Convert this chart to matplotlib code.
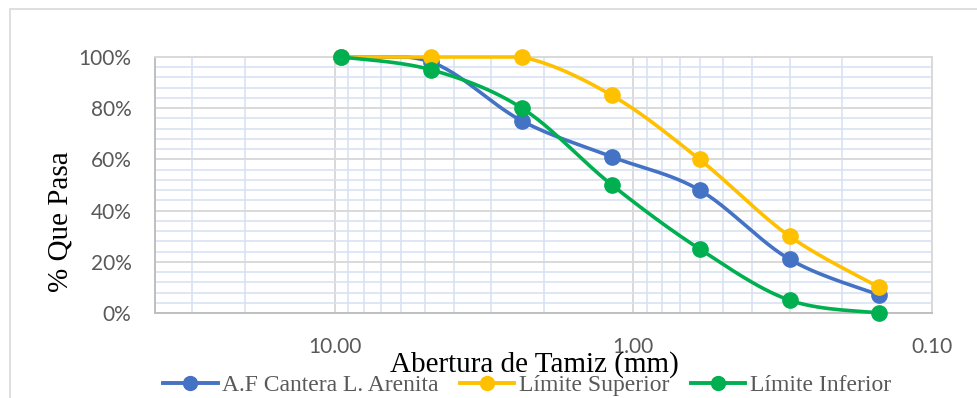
import numpy as np
import matplotlib
matplotlib.use("Agg")
import matplotlib.pyplot as plt
from matplotlib.ticker import FixedLocator, FuncFormatter, MultipleLocator, LogLocator, NullFormatter
from matplotlib.patches import Rectangle
from matplotlib.lines import Line2D

# sieve openings (mm) and % passing
abertura = [9.5, 4.75, 2.36, 1.18, 0.6, 0.3, 0.15]
cantera = [100, 98, 75, 61, 48, 21, 7]
lim_sup = [100, 100, 100, 85, 60, 30, 10]
lim_inf = [100, 95, 80, 50, 25, 5, 0]

series_names = ["A.F Cantera L. Arenita", "Límite Superior", "Límite Inferior"]
colors = ["#4472C4", "#FFC000", "#00B050"]

W, H = 977, 398
fig = plt.figure(figsize=(W / 100, H / 100), dpi=100)
ax = fig.add_axes([155 / W, 1 - 313 / H, (932 - 155) / W, (313 - 57) / H])

# outer chart border
fig.patches.append(Rectangle((10 / W, -0.1), 1.2, 1.1 - 9 / H, transform=fig.transFigure,
                             fill=False, edgecolor="#D9D9D9", lw=1.2))

ax.set_xscale("log")
ax.set_xlim(40, 0.1)
ax.set_ylim(0, 100)


def smooth(xs, ys, n=30):
    # bezier smoothing in pixel-like space (like Excel smoothed lines)
    px_dec = 298.5
    px_pct = 2.56
    u = np.log10(xs) * px_dec
    v = np.array(ys, dtype=float) * px_pct
    pts = np.column_stack([u, v])
    out = [pts[0]]
    for i in range(len(pts) - 1):
        p0 = pts[i - 1] if i > 0 else pts[i]
        p1 = pts[i]
        p2 = pts[i + 1]
        p3 = pts[i + 2] if i + 2 < len(pts) else pts[i + 1]
        c1 = p1 + (p2 - p0) / 6
        c2 = p2 - (p3 - p1) / 6
        t = np.linspace(0, 1, n)[1:, None]
        b = (1 - t) ** 3 * p1 + 3 * (1 - t) ** 2 * t * c1 + 3 * (1 - t) * t ** 2 * c2 + t ** 3 * p2
        out.extend(b)
    out = np.array(out)
    return 10 ** (out[:, 0] / px_dec), np.clip(out[:, 1] / px_pct, 0, 100)


for vals, c, z in zip([cantera, lim_sup, lim_inf], colors, [3, 4, 5]):
    sx, sy = smooth(abertura, vals)
    ax.plot(sx, sy, color=c, lw=2.6, zorder=z, clip_on=False, solid_capstyle="round")
    ax.plot(abertura, vals, "o", color=c, ms=11, zorder=z, clip_on=False)

# grid
ax.yaxis.set_major_locator(MultipleLocator(20))
ax.yaxis.set_minor_locator(MultipleLocator(4))
ax.xaxis.set_major_locator(FixedLocator([10, 1, 0.1]))
ax.xaxis.set_minor_locator(LogLocator(base=10, subs=np.arange(2, 10)))
ax.xaxis.set_minor_formatter(NullFormatter())
ax.grid(True, which="minor", color="#D9E1F2", lw=1.2, zorder=0)
ax.grid(True, which="major", color="#D9D9D9", lw=1.4, zorder=1)
ax.set_axisbelow(True)
for s in ax.spines.values():
    s.set_color("#D9D9D9")
    s.set_linewidth(1.4)
ax.spines["left"].set_color("#BFBFBF")
ax.spines["bottom"].set_color("#BFBFBF")

ax.tick_params(which="both", length=0)
ax.tick_params(axis="y", pad=17)
ax.tick_params(axis="x", pad=17)
ax.yaxis.set_major_formatter(FuncFormatter(lambda v, p: f"{v:.0f}%"))
ax.xaxis.set_major_formatter(FuncFormatter(lambda v, p: f"{v:.2f}"))
for lab in ax.get_xticklabels() + ax.get_yticklabels():
    lab.set_fontfamily("Lato")
    lab.set_fontsize(15)
    lab.set_color("#595959")

fig.text(60 / W, 1 - 222 / H, "% Que Pasa", fontfamily="Liberation Serif", fontsize=21,
         color="black", rotation=90, ha="center", va="center")
fig.text(534 / W, 1 - 365 / H, "Abertura de Tamiz (mm)", fontfamily="Liberation Serif",
         fontsize=21, color="black", ha="center", va="center")

handles = [Line2D([], [], color=c, lw=2.8, marker="o", ms=10) for c in colors]
fig.legend(handles, series_names, loc="center", bbox_to_anchor=(527 / W, 1 - 385 / H), ncol=3,
           frameon=False, prop={"family": "Liberation Serif", "size": 17}, labelcolor="#595959",
           handlelength=2.3, handletextpad=0.2, columnspacing=0.9, borderpad=0)

fig.savefig("out.png", dpi=100)
